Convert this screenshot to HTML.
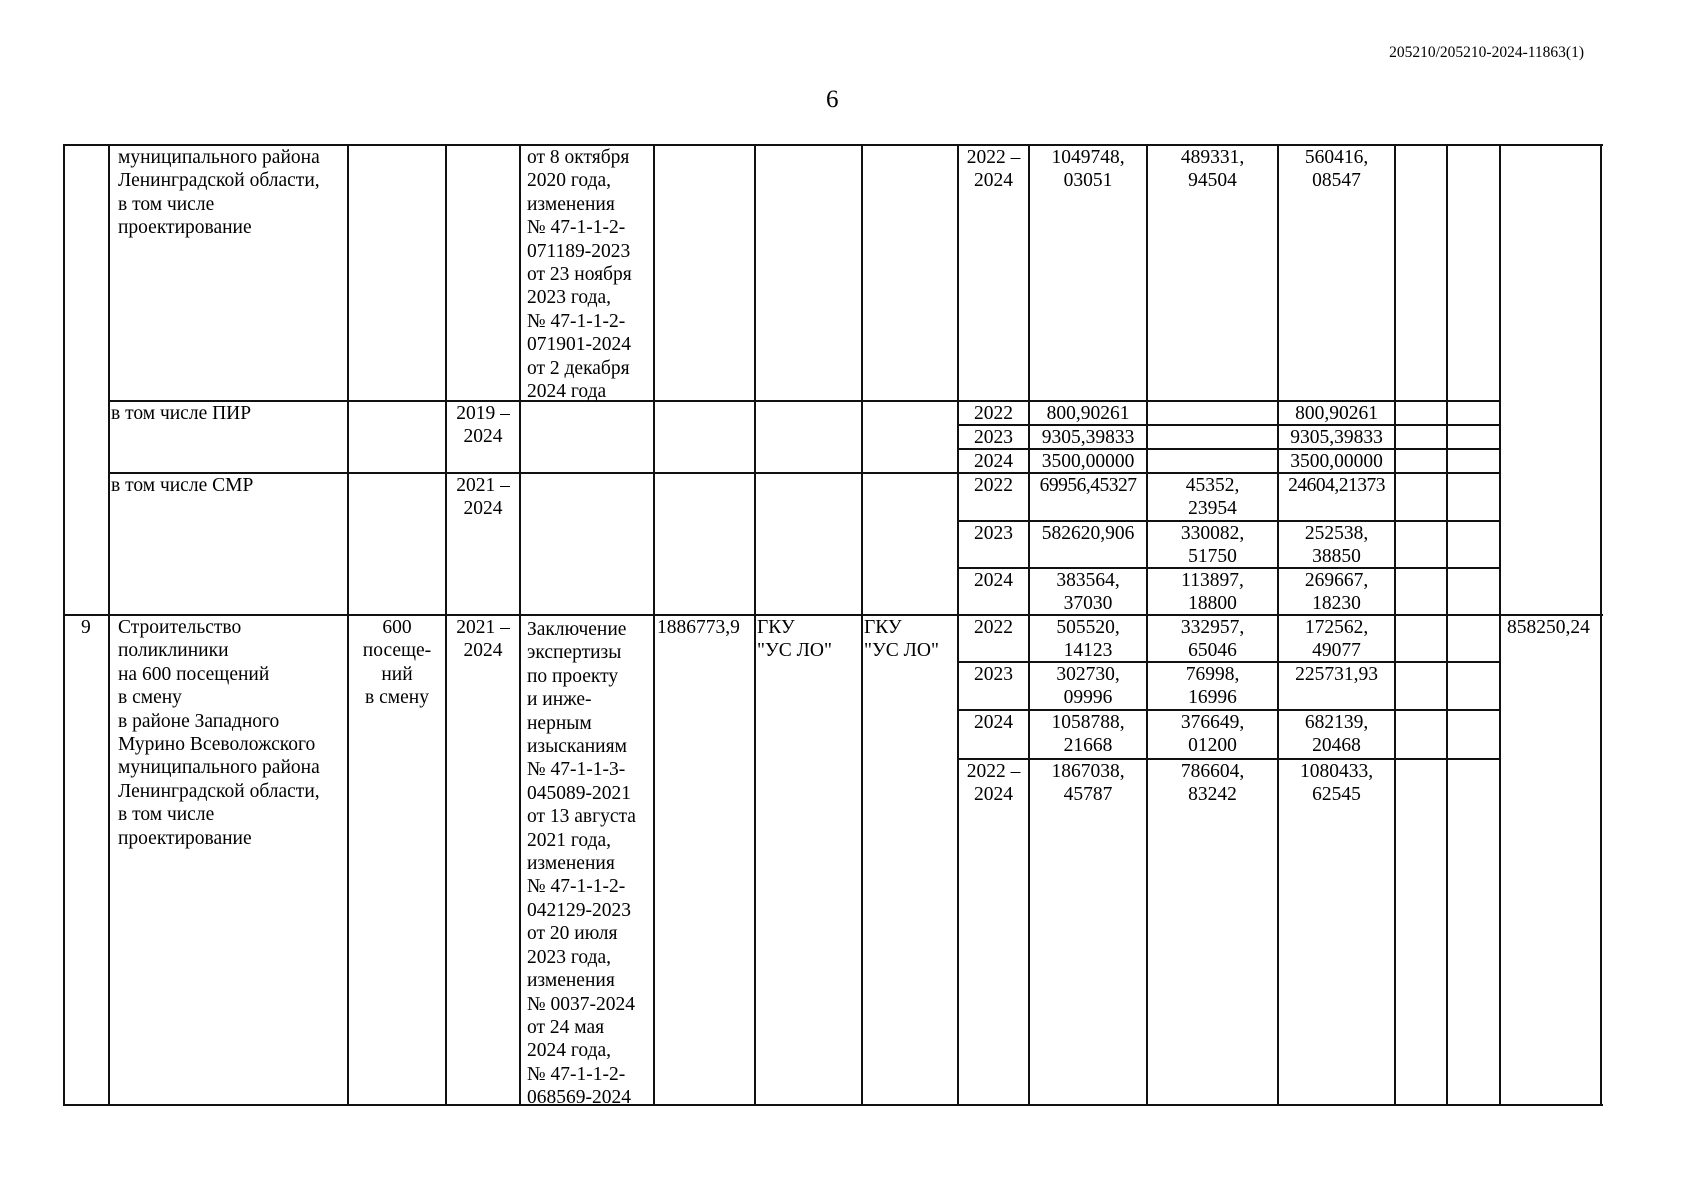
<!DOCTYPE html>
<html><head><meta charset="utf-8"><style>
html,body{margin:0;padding:0;background:#fff;}
body{width:1697px;height:1200px;position:relative;overflow:hidden;font-family:"Liberation Serif",serif;color:#000;}
.h{position:absolute;height:2px;background:#111;}
.v{position:absolute;width:2px;background:#111;}
.t{position:absolute;font-size:19.5px;line-height:23.4px;white-space:nowrap;}
.c{text-align:center;}
</style></head><body>
<div class="t" style="right:113px;top:44px;font-size:15.5px;line-height:18px;">205210/205210-2024-11863(1)</div>
<div class="t" style="left:826px;top:86px;font-size:25px;line-height:28px;">6</div>

<div class="h" style="left:64px;width:1539px;top:144px;"></div>
<div class="h" style="left:108px;width:1393px;top:400px;"></div>
<div class="h" style="left:957px;width:544px;top:424px;"></div>
<div class="h" style="left:957px;width:544px;top:448px;"></div>
<div class="h" style="left:108px;width:1393px;top:472px;"></div>
<div class="h" style="left:957px;width:544px;top:520px;"></div>
<div class="h" style="left:957px;width:544px;top:567px;"></div>
<div class="h" style="left:64px;width:1539px;top:614px;"></div>
<div class="h" style="left:957px;width:544px;top:661px;"></div>
<div class="h" style="left:957px;width:544px;top:709px;"></div>
<div class="h" style="left:957px;width:544px;top:758px;"></div>
<div class="h" style="left:64px;width:1539px;top:1104px;"></div>

<div class="v" style="left:63px;top:144px;height:962px;"></div>
<div class="v" style="left:108px;top:144px;height:962px;"></div>
<div class="v" style="left:347px;top:144px;height:962px;"></div>
<div class="v" style="left:445px;top:144px;height:962px;"></div>
<div class="v" style="left:519px;top:144px;height:962px;"></div>
<div class="v" style="left:653px;top:144px;height:962px;"></div>
<div class="v" style="left:754px;top:144px;height:962px;"></div>
<div class="v" style="left:861px;top:144px;height:962px;"></div>
<div class="v" style="left:957px;top:144px;height:962px;"></div>
<div class="v" style="left:1028px;top:144px;height:962px;"></div>
<div class="v" style="left:1146px;top:144px;height:962px;"></div>
<div class="v" style="left:1277px;top:144px;height:962px;"></div>
<div class="v" style="left:1394px;top:144px;height:962px;"></div>
<div class="v" style="left:1446px;top:144px;height:962px;"></div>
<div class="v" style="left:1499px;top:144px;height:962px;"></div>
<div class="v" style="left:1600px;top:144px;height:962px;"></div>

<div class="t" style="left:118px;top:146px;">муниципального района<br>Ленинградской области,<br>в том числе<br>проектирование</div>
<div class="t" style="left:527px;top:146px;">от 8 октября<br>2020 года,<br>изменения<br>№ 47-1-1-2-<br>071189-2023<br>от 23 ноября<br>2023 года,<br>№ 47-1-1-2-<br>071901-2024<br>от 2 декабря<br>2024 года</div>
<div class="t c" style="left:957px;width:73px;top:146px;">2022 –<br>2024</div>
<div class="t c" style="left:1028px;width:120px;top:146px;">1049748,<br>03051</div>
<div class="t c" style="left:1146px;width:133px;top:146px;">489331,<br>94504</div>
<div class="t c" style="left:1277px;width:119px;top:146px;">560416,<br>08547</div>

<div class="t" style="left:111px;top:402px;">в том числе ПИР</div>
<div class="t c" style="left:445px;width:76px;top:402px;">2019 –<br>2024</div>
<div class="t c" style="left:957px;width:73px;top:402px;">2022</div>
<div class="t c" style="left:1028px;width:120px;top:402px;">800,90261</div>
<div class="t c" style="left:1277px;width:119px;top:402px;">800,90261</div>
<div class="t c" style="left:957px;width:73px;top:426px;">2023</div>
<div class="t c" style="left:1028px;width:120px;top:426px;">9305,39833</div>
<div class="t c" style="left:1277px;width:119px;top:426px;">9305,39833</div>
<div class="t c" style="left:957px;width:73px;top:450px;">2024</div>
<div class="t c" style="left:1028px;width:120px;top:450px;">3500,00000</div>
<div class="t c" style="left:1277px;width:119px;top:450px;">3500,00000</div>

<div class="t" style="left:111px;top:474px;">в том числе СМР</div>
<div class="t c" style="left:445px;width:76px;top:474px;">2021 –<br>2024</div>
<div class="t c" style="left:957px;width:73px;top:474px;">2022</div>
<div class="t c" style="left:1028px;width:120px;top:474px;letter-spacing:-0.5px;">69956,45327</div>
<div class="t c" style="left:1146px;width:133px;top:474px;">45352,<br>23954</div>
<div class="t c" style="left:1277px;width:119px;top:474px;letter-spacing:-0.5px;">24604,21373</div>
<div class="t c" style="left:957px;width:73px;top:522px;">2023</div>
<div class="t c" style="left:1028px;width:120px;top:522px;">582620,906</div>
<div class="t c" style="left:1146px;width:133px;top:522px;">330082,<br>51750</div>
<div class="t c" style="left:1277px;width:119px;top:522px;">252538,<br>38850</div>
<div class="t c" style="left:957px;width:73px;top:569px;">2024</div>
<div class="t c" style="left:1028px;width:120px;top:569px;">383564,<br>37030</div>
<div class="t c" style="left:1146px;width:133px;top:569px;">113897,<br>18800</div>
<div class="t c" style="left:1277px;width:119px;top:569px;">269667,<br>18230</div>

<div class="t" style="left:81px;top:616px;">9</div>
<div class="t" style="left:118px;top:616px;">Строительство<br>поликлиники<br>на 600 посещений<br>в смену<br>в районе Западного<br>Мурино Всеволожского<br>муниципального района<br>Ленинградской области,<br>в том числе<br>проектирование</div>
<div class="t c" style="left:347px;width:100px;top:616px;">600<br>посеще-<br>ний<br>в смену</div>
<div class="t c" style="left:445px;width:76px;top:616px;">2021 –<br>2024</div>
<div class="t" style="left:527px;top:618px;">Заключение<br>экспертизы<br>по проекту<br>и инже-<br>нерным<br>изысканиям<br>№ 47-1-1-3-<br>045089-2021<br>от 13 августа<br>2021 года,<br>изменения<br>№ 47-1-1-2-<br>042129-2023<br>от 20 июля<br>2023 года,<br>изменения<br>№ 0037-2024<br>от 24 мая<br>2024 года,<br>№ 47-1-1-2-<br>068569-2024</div>
<div class="t" style="left:657px;top:616px;">1886773,9</div>
<div class="t" style="left:757px;top:616px;">ГКУ<br>"УС ЛО"</div>
<div class="t" style="left:864px;top:616px;">ГКУ<br>"УС ЛО"</div>
<div class="t c" style="left:957px;width:73px;top:616px;">2022</div>
<div class="t c" style="left:1028px;width:120px;top:616px;">505520,<br>14123</div>
<div class="t c" style="left:1146px;width:133px;top:616px;">332957,<br>65046</div>
<div class="t c" style="left:1277px;width:119px;top:616px;">172562,<br>49077</div>
<div class="t" style="left:1507px;top:616px;">858250,24</div>
<div class="t c" style="left:957px;width:73px;top:663px;">2023</div>
<div class="t c" style="left:1028px;width:120px;top:663px;">302730,<br>09996</div>
<div class="t c" style="left:1146px;width:133px;top:663px;">76998,<br>16996</div>
<div class="t c" style="left:1277px;width:119px;top:663px;">225731,93</div>
<div class="t c" style="left:957px;width:73px;top:711px;">2024</div>
<div class="t c" style="left:1028px;width:120px;top:711px;">1058788,<br>21668</div>
<div class="t c" style="left:1146px;width:133px;top:711px;">376649,<br>01200</div>
<div class="t c" style="left:1277px;width:119px;top:711px;">682139,<br>20468</div>
<div class="t c" style="left:957px;width:73px;top:760px;">2022 –<br>2024</div>
<div class="t c" style="left:1028px;width:120px;top:760px;">1867038,<br>45787</div>
<div class="t c" style="left:1146px;width:133px;top:760px;">786604,<br>83242</div>
<div class="t c" style="left:1277px;width:119px;top:760px;">1080433,<br>62545</div>
</body></html>
